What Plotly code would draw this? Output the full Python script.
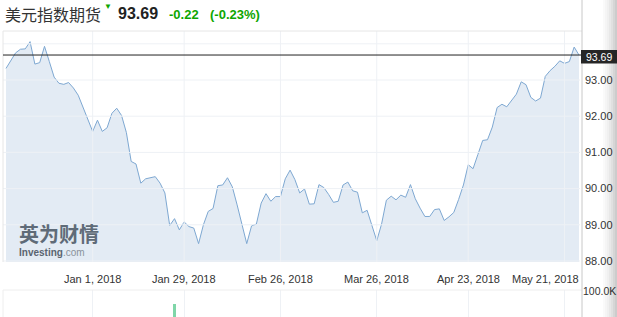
import pandas as pd
import plotly.graph_objects as go

# ---------------- data ----------------
holidays = ["2017-12-25", "2018-01-15", "2018-03-30"]
dates = [d.strftime("%Y-%m-%d") for d in
         pd.bdate_range("2017-12-05", "2018-05-24", freq="C", holidays=holidays)]

prices = [
    93.32, 93.55, 93.75, 93.85, 93.86, 94.06, 93.44, 93.48, 93.93, 93.51,
    93.08, 92.91, 92.88, 92.93, 92.78, 92.58, 92.25, 91.90,
    91.58, 91.89, 91.58, 91.68, 92.08, 92.22, 92.02, 91.55, 90.75, 90.68,
    90.15, 90.27, 90.29, 90.33, 90.15, 89.88, 88.98, 89.17, 88.86, 89.08,
    88.95, 88.91, 88.48, 89.00, 89.37, 89.45, 90.08, 90.10, 90.30, 90.05,
    89.55, 89.00, 88.48, 88.97, 89.02, 89.60, 89.86, 89.65, 89.78, 89.78,
    90.27, 90.51, 90.25, 89.88, 89.99, 89.57, 89.58, 90.11, 90.03, 89.84,
    89.62, 89.65, 90.10, 90.18, 89.94, 89.90, 89.33, 89.40, 89.00, 88.56,
    89.02, 89.68, 89.79, 89.69, 89.82, 89.76, 90.11, 89.72, 89.46, 89.23,
    89.23, 89.42, 89.44, 89.12, 89.22, 89.34, 89.70, 90.10, 90.66, 90.55,
    90.94, 91.33, 91.35, 91.70, 92.24, 92.33, 92.26, 92.43, 92.61, 92.95,
    92.87, 92.52, 92.42, 92.50, 93.10, 93.26, 93.38, 93.53, 93.46, 93.51,
    93.91, 93.69,
]

volume_dates = ["2018-01-25"]
volume_values = [70000]

tick_dates = ["2018-01-01", "2018-01-29", "2018-02-26", "2018-03-26", "2018-04-23", "2018-05-21"]
tick_labels = ["Jan 1, 2018", "Jan 29, 2018", "Feb 26, 2018", "Mar 26, 2018", "Apr 23, 2018", "May 21, 2018"]

y_ticks = [88, 89, 90, 91, 92, 93, 94]
y_tick_labels = ["88.00", "89.00", "90.00", "91.00", "92.00", "93.00", ""]

title_name = "美元指数期货"
last_price = 93.69
change = "-0.22"
change_pct = "(-0.23%)"

# ---------------- layout helpers ----------------
W, H = 617, 317
def px(x):
    return x / W
def py(y):
    return 1 - y / H

FONT = "Arial, Liberation Sans, sans-serif"
CJK = "Noto Sans CJK SC, sans-serif"
GRID = "#eef1f5"
Y_RANGE = [87.972, 94.354]

fig = go.Figure()
fig.add_trace(go.Scatter(
    x=dates, y=prices, mode="lines",
    line=dict(color="#7ea8d2", width=1),
    fill="tozeroy", fillcolor="#e3ebf4",
    xaxis="x", yaxis="y", hoverinfo="skip", showlegend=False,
))
fig.add_trace(go.Bar(
    x=volume_dates, y=volume_values, width=0.45,
    marker=dict(color="#7fd6a8", line=dict(width=0)),
    xaxis="x2", yaxis="y2", hoverinfo="skip", showlegend=False,
))

n = len(dates)
xr = [-0.62, n - 1 + 0.21]

fig.update_layout(
    width=W, height=H,
    margin=dict(l=0, r=0, t=0, b=0, autoexpand=False),
    paper_bgcolor="white", plot_bgcolor="white",
    font=dict(family=FONT, size=11, color="#333"),
    xaxis=dict(
        type="category", domain=[px(3), px(580)], range=xr,
        categoryorder="array", categoryarray=dates,
        tickvals=tick_dates, showticklabels=False, ticks="",
        showgrid=False, zeroline=False,
        anchor="y", automargin=False,
    ),
    yaxis=dict(
        domain=[py(262), py(31)], range=Y_RANGE,
        side="right", tickvals=y_ticks, ticktext=y_tick_labels,
        ticks="", ticklabelstandoff=4,
        tickfont=dict(family=FONT, size=11, color="#333"),
        showgrid=False, zeroline=False,
        anchor="x", automargin=False,
    ),
    xaxis2=dict(
        type="category", domain=[px(3), px(580)], range=xr,
        categoryorder="array", categoryarray=dates, matches="x",
        tickvals=tick_dates, showticklabels=False, ticks="",
        showgrid=True, gridcolor=GRID, gridwidth=1, zeroline=False,
        anchor="y2", automargin=False,
    ),
    yaxis2=dict(
        domain=[0, py(290)], range=[40000, 102200],
        side="right", tickvals=[100000], ticktext=["100.0K"],
        ticks="", ticklabelstandoff=2,
        tickfont=dict(family=FONT, size=10.5, color="#333"),
        showgrid=False, zeroline=False, anchor="x2", automargin=False,
    ),
    bargap=0,
)

shapes = []
# gridlines of the price panel, drawn above the fill (as in the reference)
for d in tick_dates:
    shapes.append(dict(type="line", xref="x", yref="y", x0=d, x1=d, y0=Y_RANGE[0], y1=Y_RANGE[1],
                       line=dict(color=GRID, width=1), layer="above"))
for v in y_ticks:
    shapes.append(dict(type="line", xref="paper", yref="y", x0=px(3), x1=px(580), y0=v, y1=v,
                       line=dict(color=GRID, width=1), layer="above"))
# plot borders
shapes.append(dict(type="line", xref="paper", yref="paper", x0=px(3), x1=px(582), y0=py(31), y1=py(31),
                   line=dict(color="#e6e6e6", width=1)))
shapes.append(dict(type="line", xref="paper", yref="paper", x0=px(3), x1=px(3), y0=py(262), y1=py(31),
                   line=dict(color="#e6e6e6", width=1)))
shapes.append(dict(type="line", xref="paper", yref="paper", x0=px(3), x1=px(582), y0=py(290), y1=py(290),
                   line=dict(color="#eeeeee", width=1)))
shapes.append(dict(type="line", xref="paper", yref="paper", x0=px(3), x1=px(3), y0=0, y1=py(290),
                   line=dict(color="#eeeeee", width=1)))
# right separator
shapes.append(dict(type="line", xref="paper", yref="paper", x0=px(582), x1=px(582), y0=0, y1=1,
                   line=dict(color="#c8c8c8", width=1)))
# right shadow
alphas = [0.02, 0.04, 0.06, 0.09, 0.12, 0.16, 0.2]
for k, a in enumerate(alphas):
    shapes.append(dict(type="rect", xref="paper", yref="paper",
                       x0=px(603 + 2 * k), x1=px(605 + 2 * k), y0=0, y1=1,
                       fillcolor=f"rgba(0,0,0,{a})", line=dict(width=0), layer="above"))
# last price line
shapes.append(dict(type="line", xref="paper", yref="y", x0=px(3), x1=px(582), y0=last_price, y1=last_price,
                   line=dict(color="#222", width=1), layer="above"))
# last price tag
shapes.append(dict(type="rect", xref="paper", yref="paper", x0=px(581), x1=1,
                   y0=py(63.5), y1=py(50), fillcolor="#262626", line=dict(width=0), layer="above"))
fig.update_layout(shapes=shapes)

ann = []
ann.append(dict(x=px(599), y=py(56.8), xref="paper", yref="paper", text=f"{last_price:.2f}",
                showarrow=False, font=dict(family=FONT, size=10.5, color="white"),
                xanchor="center", yanchor="middle"))
# x tick labels
for d, t in zip(tick_dates, tick_labels):
    if d == tick_dates[-1]:
        ann.append(dict(x=px(581), y=py(279), xref="paper", yref="paper", text=t, showarrow=False,
                        font=dict(family=FONT, size=11, color="#333"), xanchor="right", yanchor="middle"))
    else:
        ann.append(dict(x=d, y=py(279), xref="x", yref="paper", text=t, showarrow=False,
                        font=dict(family=FONT, size=11, color="#333"), xanchor="center", yanchor="middle"))
# title row
ann.append(dict(x=px(3), y=py(14), xref="paper", yref="paper", text=title_name, showarrow=False,
                font=dict(family=CJK, size=16, color="#333"), xanchor="left", yanchor="middle"))
ann.append(dict(x=px(108), y=py(7), xref="paper", yref="paper", text="▼", showarrow=False,
                font=dict(family=FONT, size=8, color="#0ea600"), xanchor="center", yanchor="middle"))
ann.append(dict(x=px(116), y=py(14), xref="paper", yref="paper", text=f"<b>{last_price:.2f}</b>", showarrow=False,
                font=dict(family=FONT, size=16, color="#222"), xanchor="left", yanchor="middle"))
ann.append(dict(x=px(167), y=py(14.5), xref="paper", yref="paper", text=f"<b>{change}</b>", showarrow=False,
                font=dict(family=FONT, size=13, color="#0ea600"), xanchor="left", yanchor="middle"))
ann.append(dict(x=px(208), y=py(14.5), xref="paper", yref="paper", text=f"<b>{change_pct}</b>", showarrow=False,
                font=dict(family=FONT, size=13, color="#0ea600"), xanchor="left", yanchor="middle"))
# watermark
ann.append(dict(x=px(17), y=py(233), xref="paper", yref="paper", text="<b>英为财情</b>", showarrow=False,
                font=dict(family=CJK, size=20, color="#5f6b78"), xanchor="left", yanchor="middle"))
ann.append(dict(x=px(17), y=py(252), xref="paper", yref="paper",
                text="<b>Investing</b><span style='color:#8a929b'>.com</span>", showarrow=False,
                font=dict(family=FONT, size=10, color="#5a6470"), xanchor="left", yanchor="middle"))
fig.update_layout(annotations=ann)

fig.write_html("out.html")
